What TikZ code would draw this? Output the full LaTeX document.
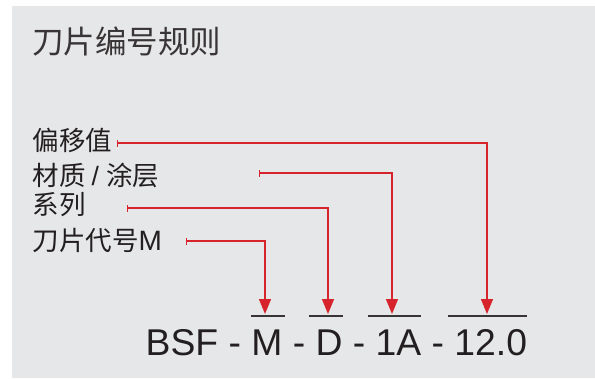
\documentclass[tikz,border=0pt]{standalone}
\usepackage{fontspec}
\setmainfont{Liberation Sans}
\newfontfamily\cjk{Noto Sans CJK SC}
\usetikzlibrary{arrows.meta}
\definecolor{bg}{RGB}{230,231,232}
\definecolor{lred}{RGB}{214,35,44}
\definecolor{ink}{RGB}{35,31,32}
\tikzset{
  lbl/.style={anchor=west,inner sep=0pt,text=ink,font=\fontsize{26.5}{26.5}\selectfont},
  lead/.style={draw=lred,line width=1.4pt,{Bar[width=7pt,line width=1.2pt]}-{Triangle[width=12pt,length=15pt]}},
  uline/.style={draw=ink!90,line width=1.1pt}
}
\begin{document}
\begin{tikzpicture}[x=1pt,y=-1pt]
\useasboundingbox (0,0) rectangle (595,378);
\fill[bg] (12,6) rectangle (595,378);
\node[anchor=west,inner sep=0pt,text=ink!90,font=\fontsize{31.5}{31.5}\selectfont\cjk] (title) at (32,41) {刀片编号规则};
\node[lbl] (l1) at (32.5,140) {\cjk 偏移值};
\node[lbl] (l2) at (32.5,175) {\cjk 材质 \normalfont/ \cjk 涂层};
\node[lbl] (l3) at (32.5,205) {\cjk 系列};
\node[lbl] (l4) at (32.5,240) {\cjk 刀片代号\normalfont\fontsize{28}{28}\selectfont M};
\node[anchor=base west,inner sep=0pt,text=ink,font=\fontsize{37.3}{37.3}\selectfont] (code) at (145.5,355) {BSF - M - D - 1A - 12.0};
% underlines
\coordinate (uM1) at (251,316); \coordinate (uM2) at (285,316);
\coordinate (uD1) at (309,316); \coordinate (uD2) at (343,316);
\coordinate (uA1) at (368,316); \coordinate (uA2) at (421,316);
\coordinate (uN1) at (448,316); \coordinate (uN2) at (527,316);
\draw[uline] (uM1) -- (uM2);
\draw[uline] (uD1) -- (uD2);
\draw[uline] (uA1) -- (uA2);
\draw[uline] (uN1) -- (uN2);
% leader starts and targets
\coordinate (s1) at (117,143); \coordinate (t1) at (487,314);
\coordinate (s2) at (259,173); \coordinate (t2) at (392,314);
\coordinate (s3) at (127,208); \coordinate (t3) at (328,314);
\coordinate (s4) at (186,241); \coordinate (t4) at (265,314);
\draw[lead] (s1) -| (t1);
\draw[lead] (s2) -| (t2);
\draw[lead] (s3) -| (t3);
\draw[lead] (s4) -| (t4);
\end{tikzpicture}
\end{document}
